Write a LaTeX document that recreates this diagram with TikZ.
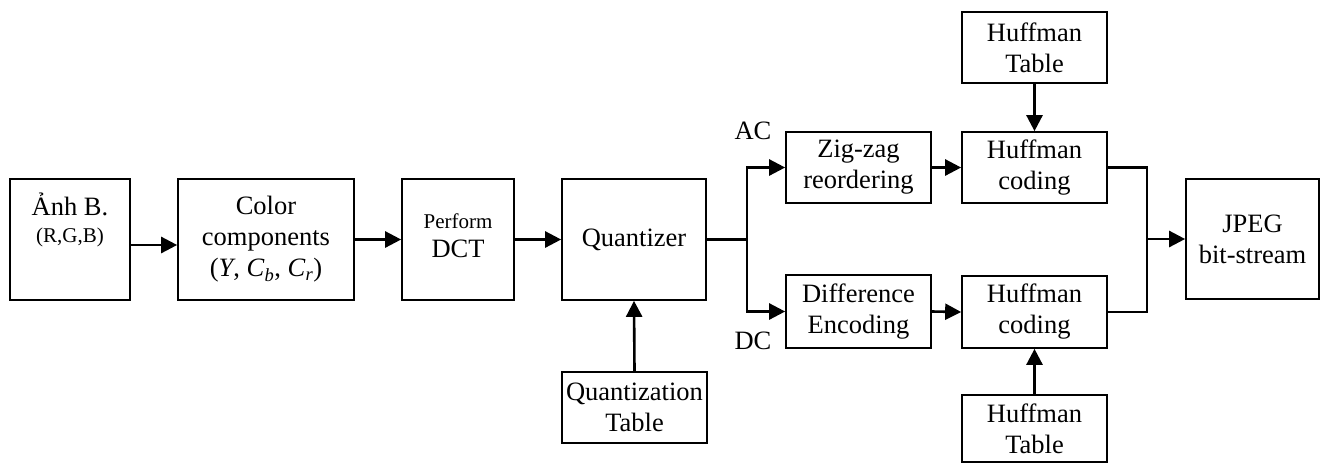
\documentclass[tikz,border=0pt]{standalone}
\usepackage{fontspec}
\setmainfont{Liberation Serif}
\usetikzlibrary{arrows.meta}
\tikzset{
  box/.style={draw, line width=1.7pt, inner sep=2pt, align=center,
    font=\fontsize{26.5}{31}\selectfont},
  txt/.style={inner sep=0pt, align=center, font=\fontsize{26.5}{31}\selectfont},
  conn/.style={line width=2.6pt},
  arr/.style={conn, -{Triangle[length=16pt,width=16pt]}},
}
\begin{document}
\begin{tikzpicture}[x=1pt,y=-1pt]
\useasboundingbox (0,0) rectangle (1322,464);
% boxes
\node[box, minimum width=120pt, minimum height=121pt] (img) at (70,239.5) {};
\node[txt] (imgtxt) at (70,220) {Ảnh B.\\[-4pt]{\fontsize{21}{25}\selectfont (R,G,B)}};
\node[box, minimum width=176pt, minimum height=121pt] (col) at (266,239.5)
  {Color\\components\\(\textit{Y}, \textit{C}\textsubscript{\textit{b}}, \textit{C}\textsubscript{\textit{r}})};
\node[box, minimum width=112pt, minimum height=121pt] (dct) at (458,239.5) {};
\node[txt] (dcttxt) at (458,236) {{\fontsize{21}{25}\selectfont Perform}\\[-2pt]DCT};
\node[box, minimum width=144pt, minimum height=121pt] (qz) at (634,239.5) {Quantizer};
\node[box, minimum width=145pt, minimum height=71pt] (qt) at (634.5,407.5) {Quantization\\Table};
\node[box, minimum width=145pt, minimum height=71pt] (zz) at (858.5,167.5) {Zig-zag\\reordering};
\node[box, minimum width=145pt, minimum height=73pt] (de) at (858.5,311.5) {Difference\\Encoding};
\node[box, minimum width=145pt, minimum height=71pt] (hc1) at (1034.5,167.5) {Huffman\\coding};
\node[box, minimum width=145pt, minimum height=72pt] (hc2) at (1034.5,312) {Huffman\\coding};
\node[box, minimum width=145pt, minimum height=71pt] (ht1) at (1034.5,47.5) {Huffman\\Table};
\node[box, minimum width=145pt, minimum height=67pt] (ht2) at (1034.5,428.5) {Huffman\\Table};
\node[box, minimum width=133pt, minimum height=120pt] (jpeg) at (1252.5,239) {JPEG\\bit-stream};
% labels
\node[txt] (ac) at (753,131) {AC};
\node[txt] (dc) at (753,341) {DC};
% connectors
\coordinate (split) at (747,239.5);
\coordinate (mg) at (1147,239);
\draw[arr] ([yshift=-5.5pt]img.east) -- ([yshift=-5.5pt]col.west);
\draw[arr] (col.east) -- (dct.west);
\draw[arr] (dct.east) -- (qz.west);
\draw[arr] (qt.north) -- (qz.south);
\draw[conn] (qz.east) -- (split);
\draw[arr] (split) |- (zz.west);
\draw[arr] (split) |- (de.west);
\draw[arr] (zz.east) -- (hc1.west);
\draw[arr] (de.east) -- (hc2.west);
\draw[arr] (ht1.south) -- (hc1.north);
\draw[arr] (ht2.north) -- (hc2.south);
\draw[conn] (hc1.east) -| (mg) |- (hc2.east);
\draw[arr] (mg) -- (jpeg.west);
\end{tikzpicture}
\end{document}
